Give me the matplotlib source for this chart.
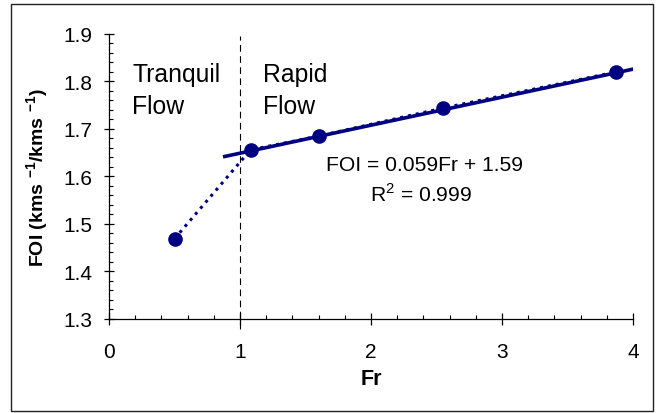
import matplotlib.pyplot as plt
from matplotlib.patches import Rectangle
from matplotlib.ticker import MultipleLocator
import numpy as np

plt.rcParams['font.family'] = ['Liberation Sans', 'DejaVu Sans']
plt.rcParams['mathtext.fontset'] = 'custom'
plt.rcParams['mathtext.rm'] = 'Liberation Sans'
plt.rcParams['mathtext.bf'] = 'Liberation Sans:bold'

# measured points
fr = [0.5, 1.08, 1.6, 2.55, 3.87]
foi = [1.469, 1.656, 1.685, 1.744, 1.82]

# linear trend for rapid flow
fit_slope = 0.059
fit_intercept = 1.59
fit_range = [0.87, 4.08]
critical_fr = 1.0

navy = '#000080'

fig = plt.figure(figsize=(6.6, 4.14), dpi=100)
ax = fig.add_axes([0.1652, 0.2271, 0.7939, 0.6884])

fig.patches.append(Rectangle((11 / 660, 1 - 412 / 414), 642 / 660, 407 / 414,
                             transform=fig.transFigure, fill=False,
                             edgecolor='#222222', linewidth=1.0))

fit_x = np.array(fit_range)
ax.plot(fit_x, fit_slope * fit_x + fit_intercept, color=navy, lw=2.6,
        solid_capstyle='butt', zorder=3)
ax.plot(fr, foi, color=navy, lw=2.2, linestyle=(0, (1, 1.6)),
        marker='o', markersize=9.5, zorder=4)

ax.axvline(critical_fr, ymin=-0.035, ymax=0.993, color='black', lw=0.8,
           linestyle=(0, (6, 4)), clip_on=False, zorder=2)

ax.set_xlim(0, 4)
ax.set_ylim(1.3, 1.9)
ax.xaxis.set_major_locator(MultipleLocator(1))
ax.xaxis.set_minor_locator(MultipleLocator(0.2))
ax.yaxis.set_major_locator(MultipleLocator(0.1))
ax.yaxis.set_minor_locator(MultipleLocator(0.02))

for side in ['top', 'right']:
    ax.spines[side].set_visible(False)
for side in ['left', 'bottom']:
    ax.spines[side].set_linewidth(0.9)

ax.tick_params(axis='x', which='major', direction='inout', length=8.5,
               width=0.9, labelsize=15, pad=12.5)
ax.tick_params(axis='y', which='major', direction='inout', length=6.5,
               width=0.9, labelsize=15, pad=8.5)
ax.tick_params(which='minor', direction='in', length=3, width=0.8)

ax.set_xlabel('Fr', fontsize=15.5, fontweight='bold', labelpad=5)
ax.set_ylabel(r'FOI (kms $^{\mathbf{-1}}$/kms $^{\mathbf{-1}}$)', fontsize=14,
              fontweight='bold', labelpad=9)

ax.text(0.176, 1.802, 'Tranquil', fontsize=17.8, va='baseline')
ax.text(0.176, 1.734, 'Flow', fontsize=17.8, va='baseline')
ax.text(1.176, 1.802, 'Rapid', fontsize=17.8, va='baseline')
ax.text(1.176, 1.734, 'Flow', fontsize=17.8, va='baseline')

ax.text(2.405, 1.6137, 'FOI = 0.059Fr + 1.59', fontsize=15.2, ha='center',
        va='baseline')
ax.text(2.38, 1.548, 'R$^2$ = 0.999', fontsize=15.2, ha='center', va='baseline')

fig.savefig('out.png', dpi=100)
